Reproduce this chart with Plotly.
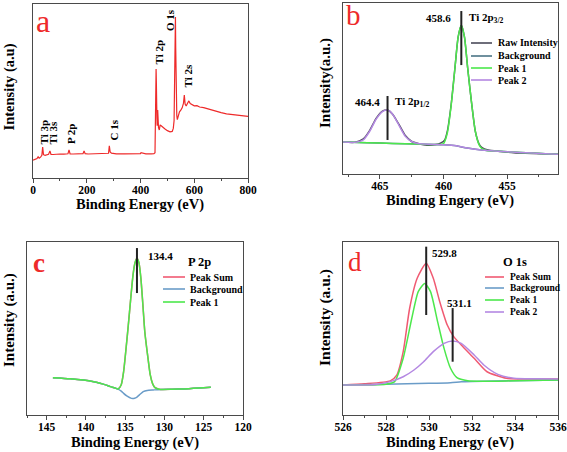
import plotly.graph_objects as go

W, H = 567, 452
FONT = "Liberation Serif"

# ---------------- data ----------------
# (a) survey spectrum
a_energy = [0, 5, 10, 15, 19, 23, 28, 33, 36, 39, 45, 52, 58, 63, 67, 75, 85, 100, 115, 125, 130, 134, 138,
            150, 165, 180, 186, 190, 194, 205, 220, 240, 260, 275, 281, 284, 287, 292, 310, 340, 370, 400,
            402, 420, 440, 450, 454, 456, 458, 459, 461, 462, 463, 464, 465, 467, 470, 473, 477, 482, 490,
            500, 510, 518, 522, 525, 527, 529, 530, 531, 533, 535, 537, 540, 545, 550, 555, 560, 563, 566,
            570, 575, 580, 585, 590, 600, 610, 620, 635, 650, 665, 680, 700, 720, 740, 760, 780, 800]
a_intensity = [10.3, 10.6, 10.9, 11.2, 12.2, 11.4, 12.0, 13.0, 17.8, 13.4, 13.0, 13.4, 13.6, 15.6, 13.6, 13.5,
               13.7, 13.8, 13.7, 13.9, 13.9, 16.2, 13.9, 13.8, 13.9, 13.9, 14.0, 15.6, 14.0, 13.8, 13.9, 13.8,
               13.9, 13.9, 14.2, 18.5, 15.0, 14.3, 13.9, 13.9, 13.8, 14.0, 14.5, 13.9, 13.9, 14.0, 14.5, 33.0,
               62.6, 55.0, 35.0, 30.0, 34.0, 39.0, 35.0, 29.0, 27.6, 30.5, 30.0, 29.2, 28.3, 27.2, 26.5, 26.8,
               28.5, 33.0, 55.0, 85.0, 92.5, 75.0, 45.0, 36.0, 33.5, 35.5, 38.0, 39.0, 40.3, 43.0, 47.7, 42.5,
               41.4, 43.0, 44.3, 42.8, 42.5, 41.5, 41.6, 40.8, 40.4, 39.7, 39.2, 38.5, 37.6, 36.9, 36.5, 35.9,
               35.7, 35.4]
a_labels = ["Ti 3p", "Ti 3s", "P 2p", "C 1s", "Ti 2p", "O 1s", "Ti 2s"]

# (b) Ti 2p
b_raw_x = [468.0, 467.0, 466.3, 465.8, 465.3, 464.8, 464.4, 464.0, 463.5, 463.0, 462.5, 462.0, 461.3, 460.6,
           460.2, 459.9, 459.7, 459.4, 459.1, 458.85, 458.6, 458.35, 458.1, 457.8, 457.5, 457.2, 457.0, 456.5,
           455.5, 454.5, 453.0, 451.0]
b_raw_y = [18.7, 18.5, 20.5, 25.5, 32.5, 36.8, 37.4, 35.0, 29.0, 22.5, 19.0, 17.8, 16.8, 17.2, 18.2, 20.0,
           25.0, 40.5, 62.0, 80.0, 87.0, 80.0, 62.0, 42.0, 25.0, 17.5, 15.6, 14.0, 13.2, 12.5, 12.0, 11.5]
b_bg_x = [468.0, 466.0, 464.0, 462.0, 460.0, 459.0, 458.6, 458.0, 457.0, 456.0, 454.0, 452.0, 451.0]
b_bg_y = [18.7, 18.3, 17.9, 17.5, 17.1, 16.5, 15.8, 15.0, 14.0, 13.4, 12.6, 11.9, 11.5]
b_p1_x = [468.0, 466.0, 464.0, 462.0, 460.5, 460.0, 459.7, 459.4, 459.1, 458.85, 458.6, 458.35, 458.1, 457.8,
          457.5, 457.2, 457.0, 456.6, 456.0, 454.0, 452.0, 451.0]
b_p1_y = [18.7, 18.3, 17.9, 17.5, 17.2, 17.8, 24.0, 40.0, 62.0, 80.0, 87.0, 80.0, 62.0, 42.0, 25.0, 17.0, 15.0,
          13.8, 13.4, 12.6, 11.9, 11.5]
b_p2_x = [468.0, 467.0, 466.3, 465.8, 465.3, 464.8, 464.4, 464.0, 463.5, 463.0, 462.5, 462.0, 461.0, 460.0,
          459.0, 458.0, 457.0, 456.0, 454.0, 452.0, 451.0]
b_p2_y = [18.7, 18.5, 20.0, 25.0, 32.0, 36.5, 37.4, 35.0, 28.5, 22.0, 19.0, 17.8, 17.4, 17.1, 16.5, 15.0, 14.0,
          13.4, 12.6, 11.9, 11.5]

# (c) P 2p
c_peak_x = [144.2, 142.0, 140.3, 139.0, 138.2, 137.5, 136.9, 136.3, 135.9, 135.5, 135.2, 134.9, 134.6, 134.3,
            134.0, 133.75, 133.5, 133.25, 133.0, 132.75, 132.5, 132.1, 131.8, 131.5, 131.2, 130.8, 130.5,
            129.0, 127.5, 126.3, 125.0, 124.1]
c_peak_y = [21.6, 21.0, 20.2, 19.2, 18.3, 17.4, 16.4, 15.6, 15.0, 17.5, 25.0, 38.0, 52.0, 67.0, 81.0, 88.0,
            90.6, 88.0, 79.0, 64.0, 48.0, 33.0, 23.0, 18.0, 15.8, 15.0, 14.8, 14.9, 15.1, 15.4, 15.7, 16.0]
c_bg_x = [144.2, 142.0, 140.3, 139.0, 138.2, 137.5, 136.9, 136.3, 135.9, 135.5, 135.2, 134.8, 134.2, 133.8,
          133.5, 133.1, 132.7, 132.2, 131.4, 130.5, 129.0, 127.5, 126.3, 125.0, 124.1]
c_bg_y = [21.6, 21.0, 20.2, 19.2, 18.3, 17.4, 16.4, 15.6, 15.0, 13.8, 12.5, 11.0, 9.6, 9.7, 10.4, 12.0, 13.5,
          14.2, 14.5, 14.8, 14.9, 15.1, 15.4, 15.7, 16.0]

# (d) O 1s
d_sum_x = [526.0, 527.0, 528.2, 528.5, 528.8, 529.1, 529.45, 529.87, 530.2, 530.5, 530.85, 531.15, 531.5,
           532.1, 532.7, 533.6, 534.5, 536.0]
d_sum_y = [17.3, 18.0, 19.7, 23.0, 36.6, 61.7, 79.0, 87.7, 79.0, 65.5, 52.0, 45.3, 40.5, 32.8, 25.0, 21.2,
           20.8, 20.8]
d_bg_x = [526.0, 528.0, 530.0, 531.0, 531.5, 532.0, 534.0, 536.0]
d_bg_y = [17.3, 17.8, 18.3, 18.7, 19.2, 19.4, 19.8, 20.2]
d_p1_x = [526.0, 528.0, 528.4, 528.8, 529.2, 529.5, 529.8, 530.07, 530.4, 530.7, 531.0, 531.3, 531.8, 532.5,
          534.0, 536.0]
d_p1_y = [17.3, 17.8, 19.3, 32.8, 55.9, 71.3, 76.0, 71.3, 54.0, 38.5, 27.0, 21.6, 19.8, 19.5, 19.8, 20.2]
d_p2_x = [526.0, 527.5, 528.2, 528.8, 529.3, 529.75, 530.2, 530.7, 531.1, 531.5, 532.1, 532.55, 533.2, 533.95,
          535.0, 536.0]
d_p2_y = [17.3, 17.7, 19.3, 22.1, 26.0, 30.8, 36.6, 41.4, 42.8, 41.4, 34.7, 28.9, 23.5, 21.2, 20.9, 20.8]

# ---------------- styling helpers ----------------
def PX(x):
    return x / W


def PY(y):
    return 1 - y / H


RED = "#ee2a2a"
AX = "#4a4a4a"
C_RAW, C_BGB = "#4a4a58", "#4b7486"
C_SUM, C_BG, C_P1, C_P2 = "#f05a72", "#6a9cc8", "#4ce84c", "#b488e2"

fig = go.Figure()

def add(x, y, ax, color, width=1.5, shape="spline"):
    fig.add_trace(go.Scatter(x=x, y=y, mode="lines", xaxis="x" + ax, yaxis="y" + ax,
                             line=dict(color=color, width=width, shape=shape, smoothing=0.6),
                             hoverinfo="skip"))

add(a_energy, a_intensity, "", RED, 1.2, "linear")
add(b_raw_x, b_raw_y, "2", C_RAW)
add(b_bg_x, b_bg_y, "2", C_BGB)
add(b_p1_x, b_p1_y, "2", C_P1)
add(b_p2_x, b_p2_y, "2", C_P2)
add(c_peak_x, c_peak_y, "3", C_SUM)
add(c_bg_x, c_bg_y, "3", C_BG)
add(c_peak_x, c_peak_y, "3", C_P1)
add(d_sum_x, d_sum_y, "4", C_SUM)
add(d_bg_x, d_bg_y, "4", C_BG)
add(d_p1_x, d_p1_y, "4", C_P1)
add(d_p2_x, d_p2_y, "4", C_P2)

tickfont = dict(family=FONT, size=11.5, color="black", weight="bold")

def xaxis(dom, rng, dtick=None, tickvals=None, minor_dtick=None, minor_tick0=0, anchor="y"):
    d = dict(domain=[PX(dom[0]), PX(dom[1])], range=rng, anchor=anchor, showline=True, mirror=True,
             linecolor=AX, linewidth=1, ticks="outside", ticklen=4, tickwidth=1, tickcolor=AX,
             tickfont=tickfont, showgrid=False, zeroline=False, fixedrange=True, automargin=False,
             ticklabelstandoff=-3,
             minor=dict(ticks="outside", ticklen=2, tickwidth=1, tickcolor=AX, dtick=minor_dtick,
                        tick0=minor_tick0, showgrid=False))
    if dtick is not None:
        d["dtick"] = dtick
        d["tick0"] = 0
    if tickvals is not None:
        d["tickmode"] = "array"
        d["tickvals"] = tickvals
    return d


def yaxis(dom, anchor):
    return dict(domain=[PY(dom[1]), PY(dom[0])], range=[0, 100], anchor=anchor, showline=True, mirror=True,
                linecolor=AX, linewidth=1, showticklabels=False, ticks="", showgrid=False, zeroline=False,
                fixedrange=True, automargin=False)

fig.update_layout(
    width=W, height=H, margin=dict(l=0, r=0, t=0, b=0, autoexpand=False),
    paper_bgcolor="white", plot_bgcolor="white", showlegend=False,
    xaxis=xaxis((33, 248), [0, 800], dtick=200, minor_dtick=100, anchor="y"),
    yaxis=yaxis((4, 178), "x"),
    xaxis2=xaxis((343, 558), [467.9, 451.0], tickvals=[465, 460, 455], minor_dtick=2.5, anchor="y2"),
    yaxis2=yaxis((3, 174), "x2"),
    xaxis3=xaxis((27, 243), [147.5, 120], dtick=5, minor_dtick=2.5, anchor="y3"),
    yaxis3=yaxis((242, 415), "x3"),
    xaxis4=xaxis((343, 558), [526, 536], dtick=2, minor_dtick=1, anchor="y4"),
    yaxis4=yaxis((242, 415), "x4"),
)

ann = []
def text(t, x, y, size, bold=True, color="black", angle=0, xa="center", ya="middle", family=FONT):
    ann.append(dict(text=t, x=PX(x), y=PY(y), xref="paper", yref="paper", showarrow=False,
                    textangle=angle, xanchor=xa, yanchor=ya,
                    font=dict(family=family, size=size, color=color, weight="bold" if bold else "normal")))

# axis titles
text("Binding Energy (eV)", 140, 204, 14.5)
text("Binding Engery (eV)", 450, 200, 14.5)
text("Binding Energy (eV)", 135, 442, 14.5)
text("Binding Energy (eV)", 450, 442, 14.5)
text("Intensity (a.u)", 8.5, 87, 14.5, angle=-90)
text("Intensity(a.u.)", 325, 83, 15, angle=-90)
text("Intensity (a.u.)", 9, 320, 15, angle=-90)
text("Intensity (a.u.)", 325, 318, 15.5, angle=-90)

# panel letters
text("a", 43, 21, 32, bold=False, color=RED)
text("b", 353, 15, 29, bold=False, color=RED)
text("c", 39, 263, 27, bold=True, color=RED)
text("d", 355, 262, 27, bold=False, color=RED)

# panel a peak labels (rotated)
for lab, x, yb in zip(a_labels, [43, 52, 71, 113, 159, 170, 188], [147, 147, 146, 143, 67, 33, 90]):
    text(lab, x, yb, 11, angle=-90, ya="bottom")

# panel b labels
text("458.6", 438, 18, 11)
text("Ti 2p<sub>3/2</sub>", 467, 18, 11, xa="left")
text("464.4", 367, 102, 11)
text("Ti 2p<sub>1/2</sub>", 393, 102, 11, xa="left")
# panel c labels
text("134.4", 160, 256, 11)
text("P 2p", 199, 262, 12.5)
# panel d labels
text("529.8", 444, 253, 11)
text("531.1", 459, 303, 11)
text("O 1s", 515, 262, 12.5)

shapes = []
def vline(ax, x, y0, y1):
    shapes.append(dict(type="line", xref="x" + ax, yref="y" + ax, x0=x, x1=x, y0=y0, y1=y1,
                       line=dict(color="#222222", width=2)))

vline("2", 458.6, 63.7, 95.3)
vline("2", 464.4, 19.9, 45.6)
vline("3", 133.5, 70.5, 96.5)
vline("4", 529.87, 57.8, 97.3)
vline("4", 531.1, 30.8, 61.8)

def legend(items, x0, x1, tx, ys, size):
    for (lab, col), y in zip(items, ys):
        shapes.append(dict(type="line", xref="paper", yref="paper", x0=PX(x0), x1=PX(x1), y0=PY(y), y1=PY(y),
                           line=dict(color=col, width=1.6)))
        text(lab, tx, y, size, xa="left")

legend([("Raw Intensity", C_RAW), ("Background", C_BGB), ("Peak 1", C_P1), ("Peak 2", C_P2)],
       471, 492, 496, [43, 56, 68, 80], 10)
legend([("Peak Sum", C_SUM), ("Background", C_BG), ("Peak 1", C_P1)],
       163, 185, 188, [277, 289, 302], 10)
legend([("Peak Sum", C_SUM), ("Background", C_BG), ("Peak 1", C_P1), ("Peak 2", C_P2)],
       485, 504, 508, [277, 288, 300, 312], 9.5)

fig.update_layout(annotations=ann, shapes=shapes)
fig.write_html("out.html", config={"displayModeBar": False},
               post_script="document.body.style.margin='0';document.body.style.padding='0';")
